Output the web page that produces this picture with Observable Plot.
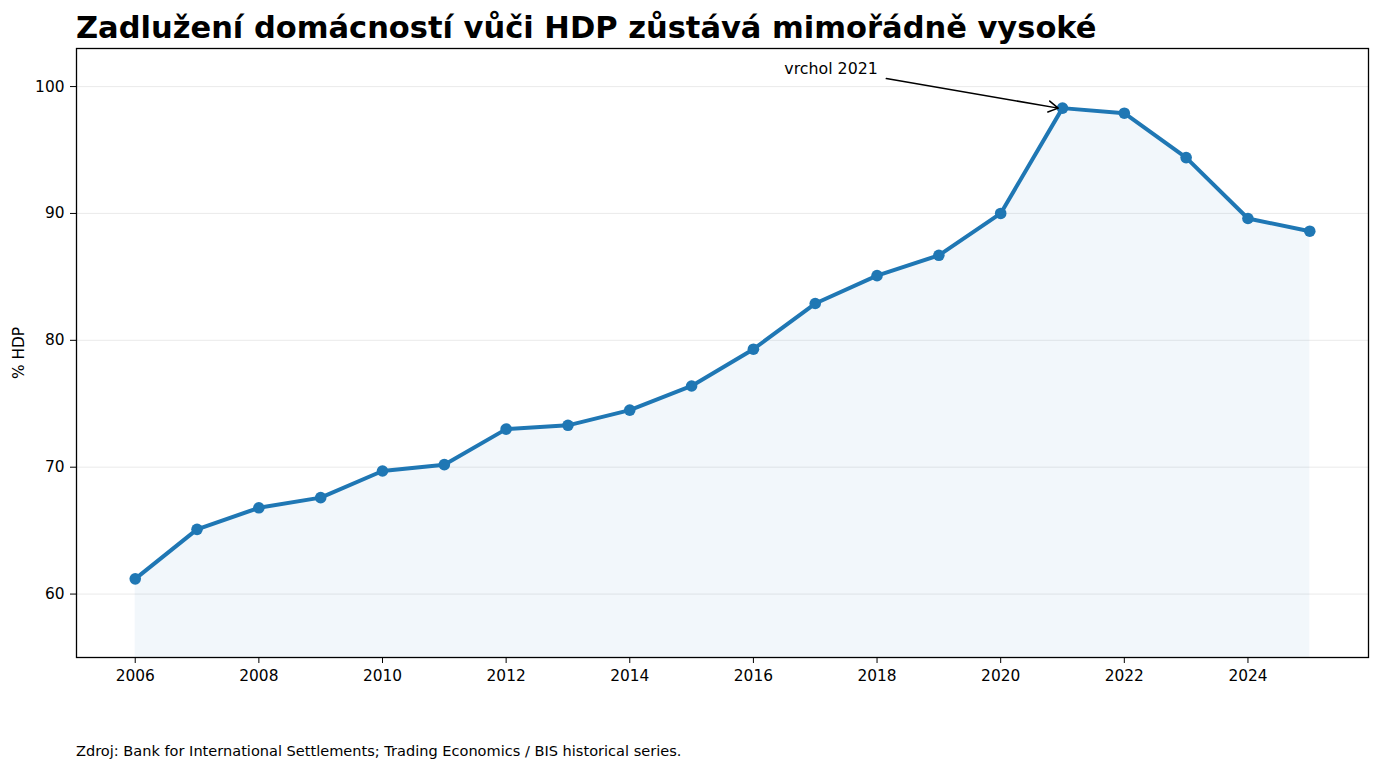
<!DOCTYPE html>
<html>
<head>
<meta charset="utf-8">
<script src="https://cdn.jsdelivr.net/npm/d3@7"></script>
<script src="https://cdn.jsdelivr.net/npm/@observablehq/plot@0.6"></script>
<style>
  html, body { margin: 0; padding: 0; background: #fff; }
  body { width: 1380px; height: 770px; position: relative; overflow: hidden; font-family: "DejaVu Sans", sans-serif; }
  #title { position: absolute; left: 76px; top: 13px; font-size: 30.5px; font-weight: bold; color: #000; white-space: nowrap; line-height: 1; }
  #chart { position: absolute; left: 0; top: 0; }
  #caption { position: absolute; left: 76px; top: 744px; font-size: 14.55px; color: #000; white-space: nowrap; line-height: 1; }
</style>
</head>
<body>
<div id="chart"></div>
<div id="title">Zadlužení domácností vůči HDP zůstává mimořádně vysoké</div>
<div id="caption">Zdroj: Bank for International Settlements; Trading Economics / BIS historical series.</div>
<script>
const years = [2006, 2007, 2008, 2009, 2010, 2011, 2012, 2013, 2014, 2015, 2016, 2017, 2018, 2019, 2020, 2021, 2022, 2023, 2024, 2025];
const debtToGdp = [61.2, 65.1, 66.8, 67.6, 69.7, 70.2, 73.0, 73.3, 74.5, 76.4, 79.3, 82.9, 85.1, 86.7, 90.0, 98.3, 97.9, 94.4, 89.6, 88.6];
const xTicks = [2006, 2008, 2010, 2012, 2014, 2016, 2018, 2020, 2022, 2024];
const yTicks = [60, 70, 80, 90, 100];
const yLabel = "% HDP";
const peakLabel = ["vrchol 2021"];
const peakTextPos = [[2016.5, 101.35]];
const peakArrow = [[2018.15, 100.63, 2020.93, 98.3]];

const data = years.map((year, i) => ({year, value: debtToGdp[i]}));
const yMin = 55, yMax = 103;

const blue = "#1f77b4";

const chart = Plot.plot({
  width: 1380,
  height: 700,
  marginTop: 48,
  marginLeft: 76,
  marginRight: 12,
  marginBottom: 43,
  style: { fontFamily: "DejaVu Sans, sans-serif", fontSize: "15.4px", color: "#000", background: "transparent" },
  x: { domain: [2005.05, 2025.95], ticks: xTicks, tickFormat: d => String(d), label: null },
  y: { domain: [yMin, yMax], ticks: yTicks, label: yLabel },
  marks: [
    Plot.ruleY(yTicks, { stroke: "#b0b0b0", strokeOpacity: 0.25, strokeWidth: 1 }),
    Plot.areaY(data, { x: "year", y1: yMin, y2: "value", fill: blue, fillOpacity: 0.06 }),
    Plot.line(data, { x: "year", y: "value", stroke: blue, strokeWidth: 4 }),
    Plot.dot(data, { x: "year", y: "value", r: 5.8, fill: blue, stroke: "none" }),
    Plot.arrow(peakArrow, { x1: d => d[0], y1: d => d[1], x2: d => d[2], y2: d => d[3], stroke: "#000", strokeWidth: 1.5, headLength: 11, bend: 0 }),
    Plot.text(peakLabel, { x: (d, i) => peakTextPos[i][0], y: (d, i) => peakTextPos[i][1], text: d => d, textAnchor: "start", fontSize: 15.8, fill: "#000" }),
    Plot.axisX({ ticks: xTicks, tickFormat: d => String(d), tickSize: 6, tickPadding: 7, label: null, fontSize: 15.4 }),
    Plot.axisY({ ticks: yTicks, tickSize: 6, tickPadding: 6, label: yLabel, labelAnchor: "center", labelArrow: "none", labelOffset: 63, fontSize: 15.4 }),
    Plot.frame({ stroke: "#000", strokeWidth: 1.3 })
  ]
});
document.getElementById("chart").appendChild(chart);
</script>
</body>
</html>
